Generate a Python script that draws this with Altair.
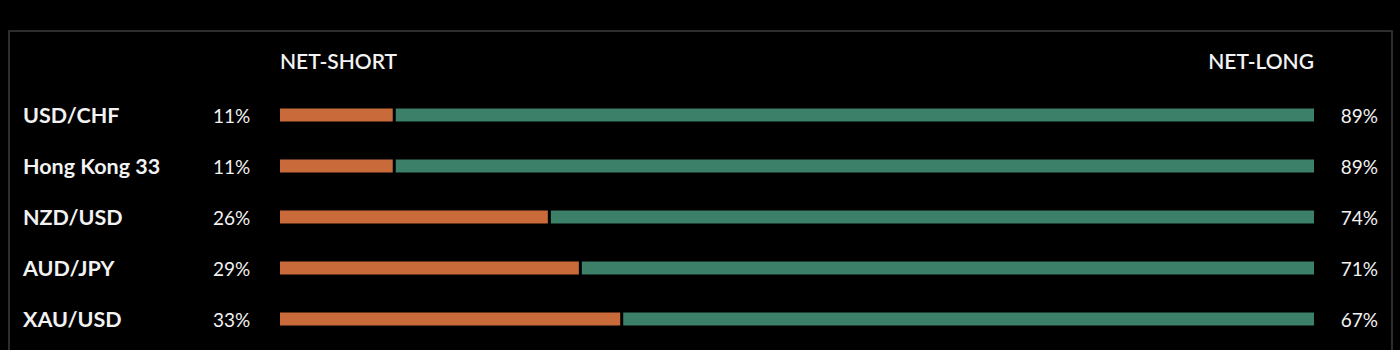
import altair as alt
import pandas as pd

pairs = ["USD/CHF", "Hong Kong 33", "NZD/USD", "AUD/JPY", "XAU/USD"]
net_short = [11, 11, 26, 29, 33]
net_long = [89, 89, 74, 71, 67]
headers = ["NET-SHORT", "NET-LONG"]

df = pd.DataFrame({
    "pair": pairs,
    "short": net_short,
    "long": net_long,
    "row": list(range(len(pairs))),
})
df["zero"] = 0
df["hundred"] = 100
df["short_lbl"] = [f"{v}%" for v in net_short]
df["long_lbl"] = [f"{v}%" for v in net_long]

FONT = "Lato"
TXT = "#f2f2f2"

xs = alt.Scale(domain=[0, 100], range=[280, 1314])
ys = alt.Scale(domain=[0, 4], range=[115, 319])

base = alt.Chart(df)

border = alt.Chart(pd.DataFrame({"a": [0]})).mark_rect(
    fill="transparent", stroke="#3c3c3c", strokeWidth=1.5
).encode(x=alt.value(9), x2=alt.value(1392), y=alt.value(31), y2=alt.value(400))

short_bar = base.mark_rule(color="#c96a3b", strokeWidth=13, strokeCap="butt", x2Offset=-1).encode(
    x=alt.X("zero:Q", scale=xs, axis=None),
    x2="short:Q",
    y=alt.Y("row:Q", scale=ys, axis=None),
)
long_bar = base.mark_rule(color="#3d8069", strokeWidth=13, strokeCap="butt", xOffset=2).encode(
    x=alt.X("short:Q", scale=xs, axis=None),
    x2="hundred:Q",
    y=alt.Y("row:Q", scale=ys, axis=None),
)

names = base.mark_text(align="left", baseline="middle", font=FONT, fontWeight="bold",
                       fontSize=21.5, color=TXT, dy=2).encode(
    x=alt.value(23), y=alt.Y("row:Q", scale=ys, axis=None), text="pair:N")

short_txt = base.mark_text(align="left", baseline="middle", font=FONT, fontSize=19,
                           color=TXT, dy=2).encode(
    x=alt.value(213), y=alt.Y("row:Q", scale=ys, axis=None), text="short_lbl:N")

long_txt = base.mark_text(align="right", baseline="middle", font=FONT, fontSize=19,
                          color=TXT, dy=2).encode(
    x=alt.value(1378), y=alt.Y("row:Q", scale=ys, axis=None), text="long_lbl:N")

hdr = pd.DataFrame({"h": headers, "pos": [0, 100]})
hdr_short = alt.Chart(hdr.iloc[[0]]).mark_text(align="left", baseline="middle", font=FONT,
                                               fontWeight=600, fontSize=21, color=TXT).encode(
    x=alt.X("pos:Q", scale=xs, axis=None), y=alt.value(63), text="h:N")
hdr_long = alt.Chart(hdr.iloc[[1]]).mark_text(align="right", baseline="middle", font=FONT,
                                              fontWeight=600, fontSize=21, color=TXT).encode(
    x=alt.X("pos:Q", scale=xs, axis=None), y=alt.value(63), text="h:N")

chart = alt.layer(border, short_bar, long_bar, names, short_txt, long_txt, hdr_short, hdr_long).properties(
    width=1400, height=350, padding=0, autosize=alt.AutoSizeParams(type="none"), background="black"
).configure_view(stroke=None)

chart.save("out.html", embed_options={"renderer": "svg", "actions": False})
